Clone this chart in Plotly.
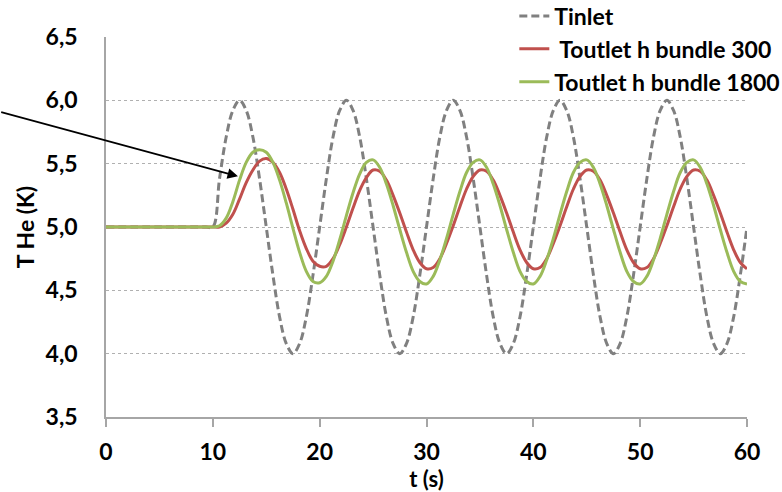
import plotly.graph_objects as go

# Time samples (s)
t = [0, 5, 8.75, 9.375,
     10, 10.625, 11.25, 11.875, 12.5, 13.125, 13.75, 14.375,
     15, 15.625, 16.25, 16.875, 17.5, 18.125, 18.75, 19.375,
     20, 20.625, 21.25, 21.875, 22.5, 23.125, 23.75, 24.375,
     25, 25.625, 26.25, 26.875, 27.5, 28.125, 28.75, 29.375,
     30, 30.625, 31.25, 31.875, 32.5, 33.125, 33.75, 34.375,
     35, 35.625, 36.25, 36.875, 37.5, 38.125, 38.75, 39.375,
     40, 40.625, 41.25, 41.875, 42.5, 43.125, 43.75, 44.375,
     45, 45.625, 46.25, 46.875, 47.5, 48.125, 48.75, 49.375,
     50, 50.625, 51.25, 51.875, 52.5, 53.125, 53.75, 54.375,
     55, 55.625, 56.25, 56.875, 57.5, 58.125, 58.75, 59.375,
     60]

# Inlet helium temperature (K)
t_inlet = [5.00, 5.00, 5.00, 5.00,
           5.00, 5.38, 5.71, 5.92, 6.00, 5.92, 5.71, 5.38,
           5.00, 4.62, 4.29, 4.08, 4.00, 4.08, 4.29, 4.62,
           5.00, 5.38, 5.71, 5.92, 6.00, 5.92, 5.71, 5.38,
           5.00, 4.62, 4.29, 4.08, 4.00, 4.08, 4.29, 4.62,
           5.00, 5.38, 5.71, 5.92, 6.00, 5.92, 5.71, 5.38,
           5.00, 4.62, 4.29, 4.08, 4.00, 4.08, 4.29, 4.62,
           5.00, 5.38, 5.71, 5.92, 6.00, 5.92, 5.71, 5.38,
           5.00, 4.62, 4.29, 4.08, 4.00, 4.08, 4.29, 4.62,
           5.00, 5.38, 5.71, 5.92, 6.00, 5.92, 5.71, 5.38,
           5.00, 4.62, 4.29, 4.08, 4.00, 4.08, 4.29, 4.62,
           5.00]

# Outlet temperature, bundle heat transfer coefficient 300
t_out_300 = [5.00, 5.00, 5.00, 5.00,
             5.00, 5.00, 5.03, 5.10, 5.22, 5.35, 5.45, 5.52,
             5.54, 5.51, 5.43, 5.30, 5.14, 4.97, 4.83, 4.73,
             4.69, 4.69, 4.75, 4.86, 5.00, 5.15, 5.29, 5.39,
             5.45, 5.44, 5.37, 5.25, 5.11, 4.96, 4.82, 4.72,
             4.67, 4.68, 4.75, 4.87, 5.01, 5.16, 5.30, 5.40,
             5.45, 5.44, 5.37, 5.25, 5.11, 4.96, 4.82, 4.72,
             4.67, 4.68, 4.75, 4.87, 5.01, 5.16, 5.30, 5.40,
             5.45, 5.44, 5.37, 5.25, 5.11, 4.96, 4.82, 4.72,
             4.67, 4.68, 4.75, 4.87, 5.01, 5.16, 5.30, 5.40,
             5.45, 5.44, 5.37, 5.25, 5.11, 4.96, 4.82, 4.72,
             4.67]

# Outlet temperature, bundle heat transfer coefficient 1800
t_out_1800 = [5.00, 5.00, 5.00, 5.00,
              5.00, 5.01, 5.07, 5.20, 5.37, 5.51, 5.59, 5.61,
              5.59, 5.51, 5.37, 5.19, 4.99, 4.80, 4.65, 4.57,
              4.56, 4.61, 4.73, 4.90, 5.09, 5.27, 5.42, 5.51,
              5.53, 5.47, 5.34, 5.17, 4.98, 4.80, 4.65, 4.57,
              4.55, 4.61, 4.74, 4.91, 5.10, 5.28, 5.43, 5.51,
              5.53, 5.47, 5.34, 5.17, 4.98, 4.80, 4.65, 4.57,
              4.55, 4.61, 4.74, 4.91, 5.10, 5.28, 5.43, 5.51,
              5.53, 5.47, 5.34, 5.17, 4.98, 4.80, 4.65, 4.57,
              4.55, 4.61, 4.74, 4.91, 5.10, 5.28, 5.43, 5.51,
              5.53, 5.47, 5.34, 5.17, 4.98, 4.80, 4.65, 4.57,
              4.55]

x_ticks = [0, 10, 20, 30, 40, 50, 60]
y_ticks = [3.5, 4.0, 4.5, 5.0, 5.5, 6.0, 6.5]

FONT = "Lato"
SIZE = 23

fig = go.Figure()
fig.add_trace(go.Scatter(
    x=t, y=t_inlet, mode="lines", name="Tinlet",
    line=dict(color="#808080", width=3, dash="8px,4px", shape="spline", smoothing=1),
))
fig.add_trace(go.Scatter(
    x=t, y=t_out_300, mode="lines", name=" Toutlet h bundle 300",
    line=dict(color="#C0504D", width=3, shape="spline", smoothing=1),
))
fig.add_trace(go.Scatter(
    x=t, y=t_out_1800, mode="lines", name="Toutlet h bundle 1800",
    line=dict(color="#9BBB59", width=3, shape="spline", smoothing=1),
))

# Pointer arrow coming in from the left
fig.add_annotation(
    x=12.35, y=5.40, xref="x", yref="y",
    ax=-9.95, ay=5.91, axref="x", ayref="y",
    text="", showarrow=True, arrowhead=2, arrowsize=1.3,
    arrowwidth=1.6, arrowcolor="#000000",
)

fig.update_layout(
    width=782, height=492,
    margin=dict(l=106, r=35, t=37, b=75, autoexpand=False),
    paper_bgcolor="white", plot_bgcolor="white",
    separators=",.",
    font=dict(family=FONT, size=SIZE, color="#000000", weight="bold"),
    showlegend=True,
    legend=dict(
        x=0.637, y=1.112, xanchor="left", yanchor="top",
        bgcolor="rgba(0,0,0,0)", borderwidth=0,
        font=dict(family=FONT, size=SIZE, color="#000000", weight="bold"),
        tracegroupgap=0, itemwidth=30,
    ),
)

fig.update_xaxes(
    range=[0, 60], tickvals=x_ticks, ticktext=[str(v) for v in x_ticks],
    showgrid=False, zeroline=False, automargin=False,
    showline=True, linecolor="#A6A6A6", linewidth=1.5,
    ticks="outside", ticklen=8, tickcolor="#A6A6A6", tickwidth=1.5,
    ticklabelstandoff=6,
    title=dict(text="t (s)", font=dict(family=FONT, size=22, weight="bold"), standoff=6),
)
fig.update_yaxes(
    range=[3.5, 6.5], tickvals=y_ticks, tickformat=".1f",
    showgrid=True, gridcolor="#B0B0B0", griddash="dot", gridwidth=1,
    zeroline=False, automargin=False,
    showline=True, linecolor="#A6A6A6", linewidth=1.5,
    ticks="", ticklabelstandoff=22,
    title=dict(text="T He (K)", font=dict(family=FONT, size=SIZE, weight="bold"), standoff=5),
)

fig.write_html("out.html")
